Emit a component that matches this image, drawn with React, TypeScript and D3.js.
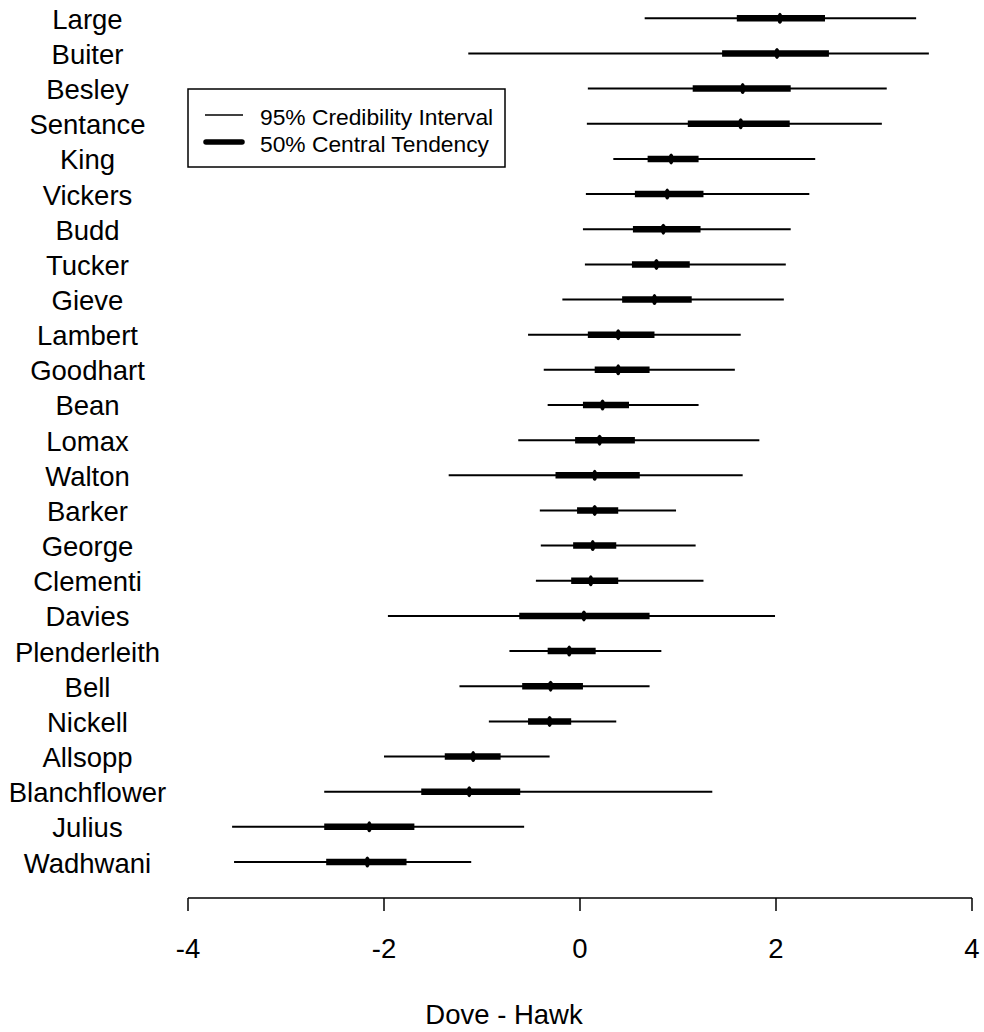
import React from "react";
import * as d3 from "d3";

const names = ["Large","Buiter","Besley","Sentance","King","Vickers","Budd","Tucker","Gieve","Lambert","Goodhart","Bean","Lomax","Walton","Barker","George","Clementi","Davies","Plenderleith","Bell","Nickell","Allsopp","Blanchflower","Julius","Wadhwani"];
const lo95 = [0.66,-1.14,0.08,0.07,0.34,0.06,0.03,0.05,-0.18,-0.53,-0.37,-0.33,-0.63,-1.34,-0.41,-0.40,-0.45,-1.96,-0.72,-1.23,-0.93,-2.00,-2.61,-3.55,-3.53];
const hi95 = [3.43,3.56,3.13,3.08,2.40,2.34,2.15,2.10,2.08,1.64,1.58,1.21,1.83,1.66,0.98,1.18,1.26,1.99,0.83,0.71,0.37,-0.31,1.35,-0.57,-1.11];
const lo50 = [1.60,1.45,1.15,1.10,0.69,0.56,0.54,0.53,0.43,0.08,0.15,0.03,-0.05,-0.25,-0.03,-0.07,-0.09,-0.62,-0.33,-0.59,-0.53,-1.38,-1.62,-2.61,-2.59];
const hi50 = [2.50,2.54,2.15,2.14,1.21,1.26,1.23,1.12,1.14,0.76,0.71,0.50,0.56,0.61,0.39,0.37,0.39,0.71,0.16,0.03,-0.09,-0.81,-0.61,-1.69,-1.77];
const median = [2.04,2.01,1.66,1.64,0.93,0.89,0.85,0.78,0.76,0.39,0.39,0.23,0.20,0.15,0.15,0.13,0.11,0.04,-0.11,-0.30,-0.31,-1.09,-1.13,-2.15,-2.17];
const xTicks = [-4,-2,0,2,4];
const legendLabels = ["95% Credibility Interval","50% Central Tendency"];

export default function App() {
  const W = 984, H = 1032;
  const x = d3.scaleLinear().domain([-4, 4]).range([188, 972]);
  const y = d3.scalePoint<string>().domain(names).range([18.3, 862]);
  const axisY = 898;
  const font = "'Liberation Sans', Arial, sans-serif";
  return (
    <svg width={W} height={H} style={{ position: "absolute", left: 0, top: 0, background: "#fff" }} fontFamily={font}>
      {names.map((n, i) => {
        const yy = y(n)!;
        return (
          <g key={n}>
            <text x={87.5} y={yy + 1} fontSize={27.5} textAnchor="middle" dominantBaseline="central" fill="#000">{n}</text>
            <line x1={x(lo95[i])} x2={x(hi95[i])} y1={yy} y2={yy} stroke="#000" strokeWidth={2} />
            <line x1={x(lo50[i])} x2={x(hi50[i])} y1={yy} y2={yy} stroke="#000" strokeWidth={6.5} />
            <ellipse cx={x(median[i])} cy={yy} rx={2.5} ry={5.5} fill="#000" />
          </g>
        );
      })}
      <line x1={x(-4)} x2={x(4)} y1={axisY} y2={axisY} stroke="#000" strokeWidth={1.5} />
      {xTicks.map(t => (
        <g key={t}>
          <line x1={x(t)} x2={x(t)} y1={axisY} y2={axisY + 13} stroke="#000" strokeWidth={1.5} />
          <text x={x(t)} y={948} fontSize={27.5} textAnchor="middle" dominantBaseline="central">{t}</text>
        </g>
      ))}
      <text x={504} y={1014} fontSize={27.5} textAnchor="middle" dominantBaseline="central">Dove - Hawk</text>
      <rect x={188} y={89} width={317} height={78} fill="#fff" stroke="#000" strokeWidth={1.5} />
      <line x1={205} x2={243} y1={115} y2={115} stroke="#000" strokeWidth={1.5} />
      <line x1={206} x2={242} y1={142} y2={142} stroke="#000" strokeWidth={5.5} strokeLinecap="round" />
      <text x={260} y={117} fontSize={22.8} dominantBaseline="central">{legendLabels[0]}</text>
      <text x={260} y={144} fontSize={22.8} dominantBaseline="central">{legendLabels[1]}</text>
    </svg>
  );
}
